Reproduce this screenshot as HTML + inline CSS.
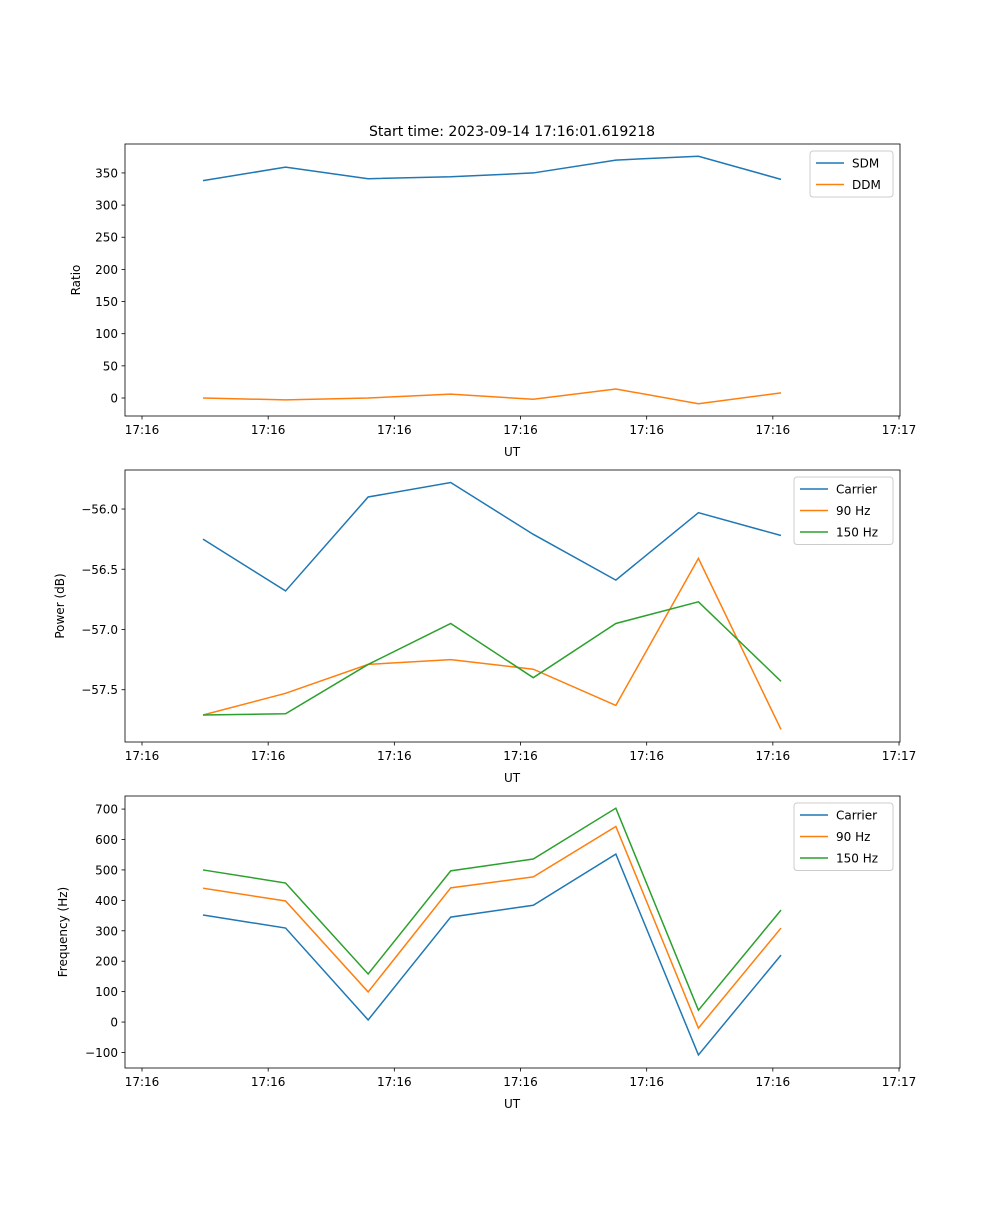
<!DOCTYPE html>
<html><head><meta charset="utf-8">
<style>
body{margin:0;background:#fff;}
svg text{font-family:"DejaVu Sans","Liberation Sans",sans-serif;font-size:12px;fill:#000;}
</style></head>
<body>
<svg id="fig" width="1000" height="1200" xmlns="http://www.w3.org/2000/svg">
<rect width="1000" height="1200" fill="#fff"/>
<text x="512" y="136" text-anchor="middle" style="font-size:14px">Start time: 2023-09-14 17:16:01.619218</text>
</svg>
<script>
const xTickLabels=["17:16","17:16","17:16","17:16","17:16","17:16","17:17"];
const sdm=[338,359,341,344,350,370,376,340];
const ddm=[0,-3,0,6,-2,14,-9,8];
const pCarrier=[-56.25,-56.68,-55.90,-55.78,-56.21,-56.59,-56.03,-56.22];
const p90=[-57.71,-57.53,-57.29,-57.25,-57.33,-57.63,-56.41,-57.83];
const p150=[-57.71,-57.70,-57.29,-56.95,-57.40,-56.95,-56.77,-57.43];
const fCarrier=[352,309,7,345,384,552,-108,220];
const f90=[440,398,99,441,477,643,-20,309];
const f150=[500,457,158,497,536,703,39,368];
const yTicks1=[0,50,100,150,200,250,300,350];
const yTicks2=[-57.5,-57.0,-56.5,-56.0];
const yTicks3=[-100,0,100,200,300,400,500,600,700];
const C=["#1f77b4","#ff7f0e","#2ca02c"];
const NS="http://www.w3.org/2000/svg";
const svg=document.getElementById('fig');
function mk(t,a,p){const e=document.createElementNS(NS,t);for(const k in a)e.setAttribute(k,a[k]);(p||svg).appendChild(e);return e;}
const L=125,R=900;
function xs(i){return 203+i*82.57;}
function xt(j){return 142+j*126.17;}
function panel(top,bot,ymin,ymax,ticks,fmt,ylab,series,labels,names,legX,legW){
  const ys=v=>bot-(v-ymin)/(ymax-ymin)*(bot-top);
  const g=mk('g',{});
  
  
  series.forEach((s,k)=>{
    const pl=mk('polyline',{points:s.map((v,i)=>xs(i)+','+ys(v)).join(' '),fill:'none',stroke:C[k],'stroke-width':1.5},g);
    
    
  });
  mk('rect',{x:L,y:top,width:R-L,height:bot-top,fill:'none',stroke:'#000','stroke-width':0.8},g);
  xTickLabels.forEach((t,j)=>{
    const x=xt(j);
    mk('line',{x1:x,x2:x,y1:bot,y2:bot+3.5,stroke:'#000','stroke-width':0.8},g);
    const tx=mk('text',{x:x,y:bot+18,'text-anchor':'middle'},g);tx.textContent=t;
    
    
  });
  const xl=mk('text',{x:512,y:bot+40,'text-anchor':'middle'},g);xl.textContent='UT';
  
  
  ticks.forEach(v=>{
    const y=ys(v);
    mk('line',{x1:L-3.5,x2:L,y1:y,y2:y,stroke:'#000','stroke-width':0.8},g);
    const tx=mk('text',{x:L-7,y:y+4.5,'text-anchor':'end'},g);tx.textContent=fmt(v);
    
    
  });
  const yl=mk('text',{x:0,y:0,'text-anchor':'middle',transform:`translate(${ylab[1]},${(top+bot)/2}) rotate(-90)`},g);yl.textContent=ylab[0];
  
  
  const lh=21.5,lt=top+7;
  const lg=mk('g',{},g);
  
  
  mk('rect',{x:legX,y:lt,width:legW,height:labels.length*lh+3,fill:'#fff',stroke:'#ccc',rx:3},lg);
  labels.forEach((lab,k)=>{
    const y=lt+12+k*lh;
    mk('line',{x1:legX+6,x2:legX+34,y1:y,y2:y,stroke:C[k],'stroke-width':1.5},lg);
    const tx=mk('text',{x:legX+42,y:y+4.5},lg);tx.textContent=lab;
    
    
  });
}
panel(144,416,-28,395,yTicks1,v=>String(v),['Ratio',80],[sdm,ddm],['SDM','DDM'],'ratio',810,83);
panel(470,742,-57.934,-55.676,yTicks2,v=>'\u2212'+Math.abs(v).toFixed(1),['Power (dB)',64],[pCarrier,p90,p150],['Carrier','90 Hz','150 Hz'],'power',794,99);
panel(796,1068,-151,743,yTicks3,v=>v<0?'\u2212'+Math.abs(v):String(v),['Frequency (Hz)',67],[fCarrier,f90,f150],['Carrier','90 Hz','150 Hz'],'frequency',794,99);
</script>
</body></html>
